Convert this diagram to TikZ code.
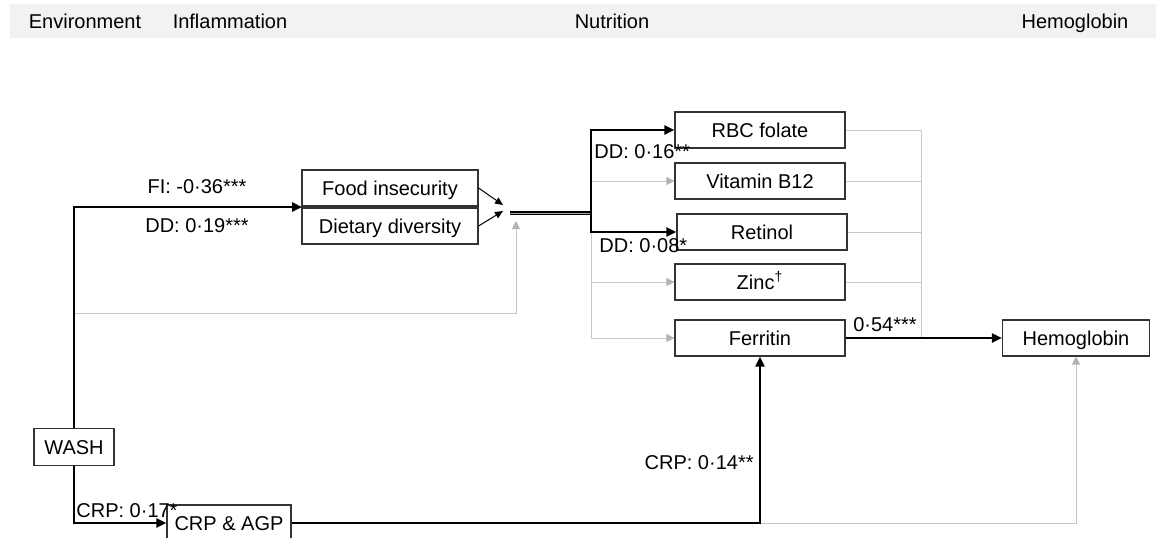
\documentclass[tikz,border=0pt]{standalone}
\usepackage{fontspec}
\setmainfont{Liberation Sans}
\usetikzlibrary{arrows.meta}
\begin{document}
\begin{tikzpicture}[x=0.5pt,y=-0.5pt,font=\fontsize{10}{12}\selectfont,
	head/.style={text height=7pt, text depth=0pt},
	box/.style={draw=black!80, line width=0.6pt, fill=white, minimum height=18pt, inner sep=0pt, text height=7pt, text depth=0pt},
	lbl/.style={inner sep=1pt},
	bold/.style={draw=black, line width=1.4pt},
	boldarrow/.style={bold, -{Triangle[length=5pt,width=4.5pt]}},
	thinarrow/.style={draw=black, line width=0.5pt, -{Triangle[length=4pt,width=3.5pt]}},
	faint/.style={draw=black!22, line width=0.5pt},
	faintarrow/.style={faint, -{Triangle[length=4pt,width=4pt,color=black!30]}},
	dbl/.style={draw=black, line width=0.6pt, double=black!35, double distance=0.5pt}]
	\useasboundingbox (0,0) rectangle (1156,537);
	\fill[black!5] (10,4) rectangle (1156,38);
	\node (T1) at (85, 21)	[head]	{Environment};
	\node (T2) at (230, 21)	[head]	{Inflammation};
	\node (T3) at (612, 21)	[head]	{Nutrition};
	\node (T4) at (1075, 21)	[head]	{Hemoglobin};
	\node (WASH) at (74, 447)	[box, minimum width=40pt, minimum height=18.5pt]	{WASH};
	\node (CRP) at (229, 523)	[box, minimum width=62pt]	{CRP \& AGP};
	\node (FI) at (390, 188)	[box, minimum width=88pt]	{Food insecurity};
	\node (DD) at (390, 226)	[box, minimum width=88pt]	{Dietary diversity};
	\node (RBC) at (760, 130)	[box, minimum width=85pt]	{RBC folate};
	\node (B12) at (760, 181)	[box, minimum width=85pt]	{Vitamin B12};
	\node (RET) at (762, 232)	[box, minimum width=85pt]	{Retinol};
	\node (ZN) at (760, 282)	[box, minimum width=85pt]	{Zinc\textsuperscript{\scriptsize †}};
	\node (FER) at (760, 338)	[box, minimum width=85pt]	{Ferritin};
	\node (HB) at (1076, 338)	[box, minimum width=73.5pt]	{Hemoglobin};
	\coordinate (IN) at (302, 207);
	\coordinate (W1) at (74, 313);
	\coordinate (M1) at (503, 205);
	\coordinate (M2) at (503, 211);
	\coordinate (M3) at (516, 221);
	\coordinate (M) at (510, 213);
	\coordinate (S) at (591, 213);
	\coordinate (BUS) at (921, 338);
	\draw[faintarrow] (W1) -| (M3);
	\draw[faintarrow] (S) |- (B12.west);
	\draw[faintarrow] (S) |- (ZN.west);
	\draw[faintarrow] (S) |- (FER.west);
	\draw[faint] (RBC.east) -| (BUS);
	\draw[faint] (B12.east) -| (BUS);
	\draw[faint] (RET.east) -| (BUS);
	\draw[faint] (ZN.east) -| (BUS);
	\draw[faintarrow] (FER.south |- CRP.east) -| (HB.south);
	\draw[boldarrow] (WASH.north) |- (IN);
	\draw[boldarrow] (WASH.south) |- (CRP.west);
	\draw[thinarrow] (FI.east) -- (M1);
	\draw[thinarrow] (DD.east) -- (M2);
	\draw[dbl] (M) -- (S);
	\draw[boldarrow] (S) |- (RBC.west);
	\draw[boldarrow] (S) |- (RET.west);
	\draw[bold] (FER.east) -- (BUS);
	\draw[boldarrow, line width=1pt] (BUS) -- (HB.west);
	\draw[boldarrow] (CRP.east) -| (FER.south);
	\node (L1) at (197, 187)	[lbl]	{FI: -0·36***};
	\node (L2) at (197, 226)	[lbl]	{DD: 0·19***};
	\node (L3) at (592, 152)	[lbl, anchor=west]	{DD: 0·16**};
	\node (L4) at (597, 246)	[lbl, anchor=west]	{DD: 0·08*};
	\node (L5) at (885, 325)	[lbl]	{0·54***};
	\node (L6) at (756, 463)	[lbl, anchor=east]	{CRP: 0·14**};
	\node (L7) at (74, 511)	[lbl, anchor=west]	{CRP: 0·17*};
\end{tikzpicture}
\end{document}
